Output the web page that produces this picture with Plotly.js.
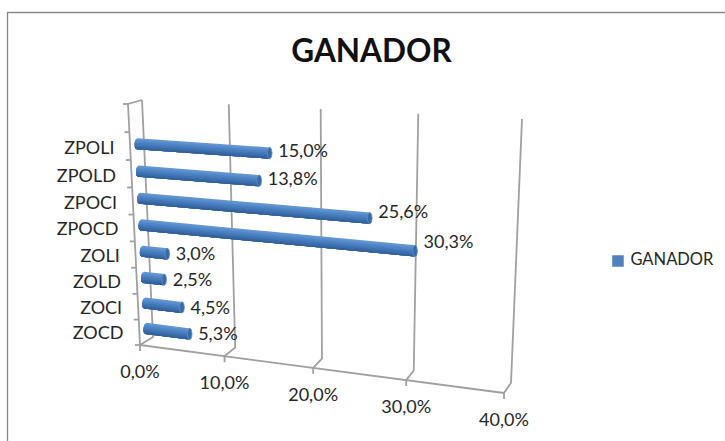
<!DOCTYPE html>
<html><head><meta charset="utf-8">
<script src="https://cdn.plot.ly/plotly-3.0.1.min.js"></script>
<style>html,body{margin:0;padding:0;background:#fff}#c{width:725px;height:441px}</style>
</head><body><div id="c"></div>
<script>
// ---- data ----
const categories = ["ZOCD","ZOCI","ZOLD","ZOLI","ZPOCD","ZPOCI","ZPOLD","ZPOLI"];
const values = [5.3,4.5,2.5,3.0,30.3,25.6,13.8,15.0];
const axisTicks = [0,10,20,30,40];
const seriesName = "GANADOR";
const slots = 9;
const axisMax = 40;
const pct = v => v.toFixed(1).replace('.',',')+'%';

// ---- perspective projection of the 3-D chart box onto the flat picture ----
function quad(p){ // unit square -> quad homography (u right, w down)
  const [a,b,c,d]=p; // top-left, top-right, bottom-right, bottom-left
  const dx1=b[0]-c[0],dx2=d[0]-c[0],sx=a[0]-b[0]+c[0]-d[0];
  const dy1=b[1]-c[1],dy2=d[1]-c[1],sy=a[1]-b[1]+c[1]-d[1];
  const den=dx1*dy2-dx2*dy1;
  const g=(sx*dy2-dx2*sy)/den,h=(dx1*sy-sx*dy1)/den;
  return (u,w)=>{
    const k=g*u+h*w+1;
    return [((b[0]-a[0]+g*b[0])*u+(d[0]-a[0]+h*d[0])*w+a[0])/k,
            ((b[1]-a[1]+g*b[1])*u+(d[1]-a[1]+h*d[1])*w+a[1])/k];
  };
}
const back = quad([[142,100],[522,119],[511,383],[153,337]]);
const front= quad([[128,104],[515,129],[504,393],[140,345]]);
const mid=(u,w)=>{const A=back(u,w),B=front(u,w);return [(A[0]+B[0])/2,(A[1]+B[1])/2];};
const U=v=>v/axisMax;
const slotW=i=>1-(i+0.5)/slots;

const traces=[];
// wall / floor grid
const gx=[],gy=[];
function seg(pts){pts.forEach(p=>{gx.push(p[0]);gy.push(p[1]);});gx.push(null);gy.push(null);}
axisTicks.forEach(v=>{
  const t=back(U(v),0),b=back(U(v),1),f=front(U(v),1);
  seg([t,b,f,[f[0],f[1]+6]]);
});
seg([back(0,0),front(0,0),front(0,1)]);
seg([front(0,1),front(1,1)]);
for(let i=0;i<=slots;i++){const f=front(0,i/slots);seg([[f[0]-5,f[1]],f]);}
traces.push({type:'scatter',mode:'lines',x:gx,y:gy,line:{color:'#a0a0a0',width:1.8},hoverinfo:'skip',showlegend:false});

// cylinders
const R=5.6,RX=2.4;
const shades=['#6496d2','#5a8dcc','#4f84c5','#477cbd','#4074b4','#3a6ba8','#336196'];
shades.forEach((col,k)=>{
  const top=-R+2*R*k/shades.length;
  const xs=[],ys=[];
  values.forEach((v,i)=>{
    const w=slotW(i),A=mid(0,w),B=mid(U(v),w);
    const L=Math.hypot(B[0]-A[0],B[1]-A[1]),dx=(B[0]-A[0])/L,dy=(B[1]-A[1])/L;
    const nx=-dy,ny=dx;
    const pts=[];
    const N=10;
    for(let j=0;j<=N;j++){const o=top+(R-top)*j/N;
      pts.push([B[0]+nx*o,B[1]+ny*o]);}
    for(let j=N;j>=0;j--){const o=top+(R-top)*j/N;
      const e=Math.sqrt(Math.max(0,1-o*o/(R*R)))*RX;
      pts.push([A[0]+nx*o-dx*e,A[1]+ny*o-dy*e]);}
    pts.forEach(p=>{xs.push(p[0]);ys.push(p[1]);});
    xs.push(pts[0][0]);ys.push(pts[0][1]);
    xs.push(null);ys.push(null);
  });
  traces.push({type:'scatter',mode:'lines',x:xs,y:ys,fill:'toself',fillcolor:col,line:{width:0,color:col},hoverinfo:'skip',showlegend:false});
});
// end caps
const cx=[],cy=[];
values.forEach((v,i)=>{
  const w=slotW(i),B=mid(U(v),w);
  for(let j=0;j<=24;j++){const a=j/24*2*Math.PI;cx.push(B[0]+RX*Math.cos(a));cy.push(B[1]+R*Math.sin(a));}
  cx.push(null);cy.push(null);
});
traces.push({type:'scatter',mode:'lines',x:cx,y:cy,fill:'toself',fillcolor:'#386aa6',line:{width:0.8,color:'#5f8fc8'},hoverinfo:'skip',showlegend:false});

const txt={family:'Lato, Carlito, sans-serif',size:18,color:'#262626'};
// data labels
traces.push({type:'scatter',mode:'text',textposition:'middle right',textfont:txt,cliponaxis:false,
  x:values.map((v,i)=>mid(U(v),slotW(i))[0]+8.5),
  y:values.map((v,i)=>mid(U(v),slotW(i))[1]+2-0.0105*v*v),
  text:values.map(pct),hoverinfo:'skip',showlegend:false});
// category labels
traces.push({type:'scatter',mode:'text',textposition:'middle left',textfont:txt,
  x:categories.map((c,i)=>mid(0,slotW(i))[0]-22.5),
  y:categories.map((c,i)=>mid(0,slotW(i))[1]+6),
  text:categories,hoverinfo:'skip',showlegend:false});
// value-axis labels
traces.push({type:'scatter',mode:'text',textposition:'middle center',textfont:txt,
  x:axisTicks.map(v=>front(U(v),1)[0]),
  y:axisTicks.map(v=>front(U(v),1)[1]+28.5),
  text:axisTicks.map(pct),hoverinfo:'skip',showlegend:false});
// legend entry
traces.push({type:'scatter',mode:'markers+text',name:seriesName,x:[618],y:[261],
  marker:{symbol:'square',size:11.5,color:'#4f81bd'},text:[' '+seriesName],textposition:'middle right',
  textfont:{family:'Lato, Carlito, sans-serif',size:16.5,color:'#262626'},hoverinfo:'skip',showlegend:false});

const layout={
  width:725,height:441,paper_bgcolor:'#fff',plot_bgcolor:'#fff',showlegend:false,
  margin:{l:0,r:0,t:0,b:0},
  title:{text:'<b>GANADOR</b>',x:371.5/725,xanchor:'center',y:1-51/441,yanchor:'middle',
    font:{family:'Lato, Carlito, sans-serif',size:31.5,color:'#111'}},
  xaxis:{visible:false,range:[0,725],fixedrange:true},
  yaxis:{visible:false,range:[441,0],fixedrange:true},
  shapes:[{type:'path',xref:'x',yref:'y',path:'M7.5,441 L7.5,12.5 L725,12.5',line:{color:'#868686',width:1.3}}]
};
Plotly.newPlot('c',traces,layout,{displayModeBar:false,staticPlot:true});
</script></body></html>
